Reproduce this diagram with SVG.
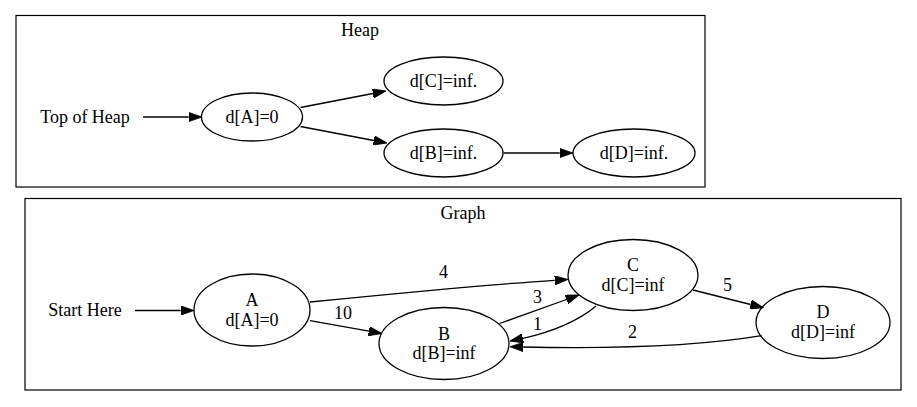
<svg xmlns="http://www.w3.org/2000/svg" width="917" height="407" viewBox="0 0 917 407">
<style>
text{font-family:"Liberation Serif","Times New Roman",serif;font-size:18px;fill:#000;text-anchor:middle}
.cl{fill:none;stroke:#000;stroke-width:1.2}
.nd{fill:none;stroke:#000;stroke-width:1.3}
.ed{fill:none;stroke:#000;stroke-width:1.3}
</style>
<defs>
<marker id="ah" viewBox="0 0 13.3 9.3" refX="0" refY="4.65" markerWidth="13.3" markerHeight="9.3" markerUnits="userSpaceOnUse" orient="auto">
<path d="M0,0 L13.3,4.65 L0,9.3 z" fill="#000" stroke="#000" stroke-width="0.8"/>
</marker>
</defs>
<rect fill="#fff" x="0" y="0" width="917" height="407"/>
<g id="cluster_heap">
<rect class="cl" x="16" y="15.5" width="689" height="171.5"/>
<text x="360" y="36">Heap</text>
</g>
<g id="cluster_graph">
<rect class="cl" x="25" y="198.5" width="876" height="191.5"/>
<text x="463" y="219">Graph</text>
</g>
<g id="h_top"><text x="85" y="122.5">Top of Heap</text></g>
<g id="h_a"><ellipse class="nd" cx="252" cy="117" rx="50.5" ry="24"/><text x="252" y="122.5">d[A]=0</text></g>
<g id="h_c"><ellipse class="nd" cx="443.5" cy="81" rx="59.5" ry="24"/><text x="443.5" y="86.5">d[C]=inf.</text></g>
<g id="h_b"><ellipse class="nd" cx="443.5" cy="153" rx="59.5" ry="24"/><text x="443.5" y="158.5">d[B]=inf.</text></g>
<g id="h_d"><ellipse class="nd" cx="634" cy="153" rx="61" ry="24"/><text x="634" y="158.5">d[D]=inf.</text></g>
<g id="g_start"><text x="85" y="316">Start Here</text></g>
<g id="g_a"><ellipse class="nd" cx="252" cy="310" rx="58" ry="36"/><text x="252" y="306">A</text><text x="252" y="325.5">d[A]=0</text></g>
<g id="g_b"><ellipse class="nd" cx="444" cy="343.5" rx="65" ry="36"/><text x="444" y="339.5">B</text><text x="444" y="359">d[B]=inf</text></g>
<g id="g_c"><ellipse class="nd" cx="633" cy="275" rx="65" ry="35.5"/><text x="633" y="271">C</text><text x="633" y="290.5">d[C]=inf</text></g>
<g id="g_d"><ellipse class="nd" cx="823" cy="322.5" rx="67" ry="36"/><text x="823" y="318">D</text><text x="823" y="337.5">d[D]=inf</text></g>
<g id="connectors">
<path class="ed" marker-end="url(#ah)" d="M143,117 L188.7,117"/>
<path class="ed" marker-end="url(#ah)" d="M300.5,107.5 L372.9,93.5"/>
<path class="ed" marker-end="url(#ah)" d="M300.5,126.5 L373.9,140.5"/>
<path class="ed" marker-end="url(#ah)" d="M503.5,153 L559.7,153"/>
<path class="ed" marker-end="url(#ah)" d="M135,310.5 L180.7,310.5"/>
<path class="ed" marker-end="url(#ah)" d="M310,302 C400,293 480,285 554.7,280.3"/>
<path class="ed" marker-end="url(#ah)" d="M310,320.7 L368.9,331.2"/>
<path class="ed" marker-end="url(#ah)" d="M499.5,323.5 L566.5,299.5"/>
<path class="ed" marker-end="url(#ah)" d="M596,306 C580,320 552,332 522.9,338.3"/>
<path class="ed" marker-end="url(#ah)" d="M693,290 L750.6,304.5"/>
<path class="ed" marker-end="url(#ah)" d="M761.7,335.7 C700,346 620,349 523.2,347"/>
<text x="443.5" y="278">4</text>
<text x="343" y="319">10</text>
<text x="537.5" y="303">3</text>
<text x="537.5" y="329.5">1</text>
<text x="727.5" y="290.5">5</text>
<text x="632.5" y="338">2</text>
</g>
</svg>
